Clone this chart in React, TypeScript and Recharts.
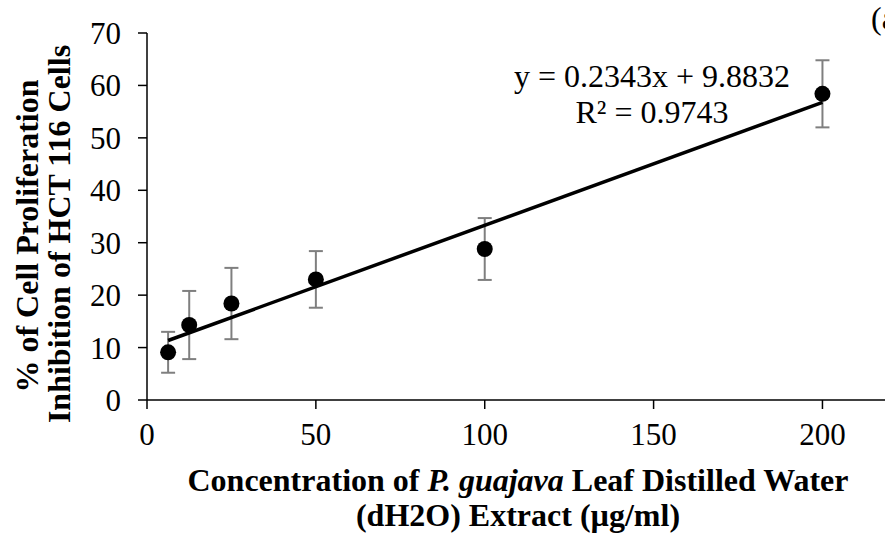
import { ScatterChart, Scatter, XAxis, YAxis, ErrorBar, Customized } from "recharts";

const concentrations = [6.25, 12.5, 25, 50, 100, 200];
const inhibition = [9.1, 14.3, 18.4, 23.0, 28.8, 58.4];
const errors = [3.9, 6.5, 6.8, 5.4, 5.9, 6.4];

// trendline end points (y = 0.2343x + 9.8832)
const trendX = [6.25, 200];
const trendY = [11.35, 56.75];

const xTicks = [0, 50, 100, 150, 200];
const yTicks = [0, 10, 20, 30, 40, 50, 60, 70];

const FONT = '"Liberation Serif", "Times New Roman", serif';

const points = concentrations.map((x, i) => ({ x, y: inhibition[i], err: errors[i] }));
const trend = trendX.map((x, i) => ({ x, y: trendY[i] }));

const Dot = (props: any) => <circle cx={props.cx} cy={props.cy} r={8} fill="#000" />;

const XTitle = () => (
  <g fontFamily={FONT} fontWeight="bold" fontSize={32} fill="#000">
    <text x={518} y={491} textAnchor="middle">
      Concentration of <tspan fontStyle="italic">P. guajava</tspan> Leaf Distilled Water
    </text>
    <text x={518} y={526} textAnchor="middle">
      (dH2O) Extract (µg/ml)
    </text>
  </g>
);

const YTitle = () => (
  <g fontFamily={FONT} fontWeight="bold" fontSize={32} fill="#000">
    <text x={38} y={236} textAnchor="middle" transform="rotate(-90, 38, 236)">
      % of Cell Proliferation
    </text>
    <text x={70} y={234} textAnchor="middle" transform="rotate(-90, 70, 234)">
      Inhibition of HCT 116 Cells
    </text>
  </g>
);

const Notes = () => (
  <g fontFamily={FONT} fontSize={32} fill="#000">
    <text x={652} y={87} textAnchor="middle">y = 0.2343x + 9.8832</text>
    <text x={652} y={123} textAnchor="middle">R² = 0.9743</text>
    <text x={871} y={29}>(a)</text>
  </g>
);

export default function App() {
  return (
    <div style={{ position: "absolute", left: 0, top: 0, width: 885, height: 535, overflow: "hidden", background: "#fff" }}>
      <ScatterChart width={890} height={535} margin={{ top: 33, right: 0, bottom: 0, left: 0 }}>
        <XAxis
          type="number"
          dataKey="x"
          domain={[0, 220]}
          ticks={xTicks}
          height={135}
          tickSize={9}
          tickMargin={14}
          stroke="#000"
          strokeWidth={1.5}
          tick={{ fill: "#000", fontSize: 31, fontFamily: FONT }}
          label={<XTitle />}
        />
        <YAxis
          type="number"
          dataKey="y"
          domain={[0, 70]}
          ticks={yTicks}
          width={147}
          tickSize={9}
          tickMargin={17}
          stroke="#000"
          strokeWidth={1.5}
          tick={{ fill: "#000", fontSize: 31, fontFamily: FONT }}
          label={<YTitle />}
        />
        <Scatter
          data={trend}
          line={{ stroke: "#000", strokeWidth: 3.5 }}
          shape={() => null}
          isAnimationActive={false}
        />
        <Scatter data={points} shape={Dot} isAnimationActive={false}>
          <ErrorBar dataKey="err" direction="y" width={7} stroke="#7f7f7f" strokeWidth={2} />
        </Scatter>
        <Customized component={Notes} />
      </ScatterChart>
    </div>
  );
}
